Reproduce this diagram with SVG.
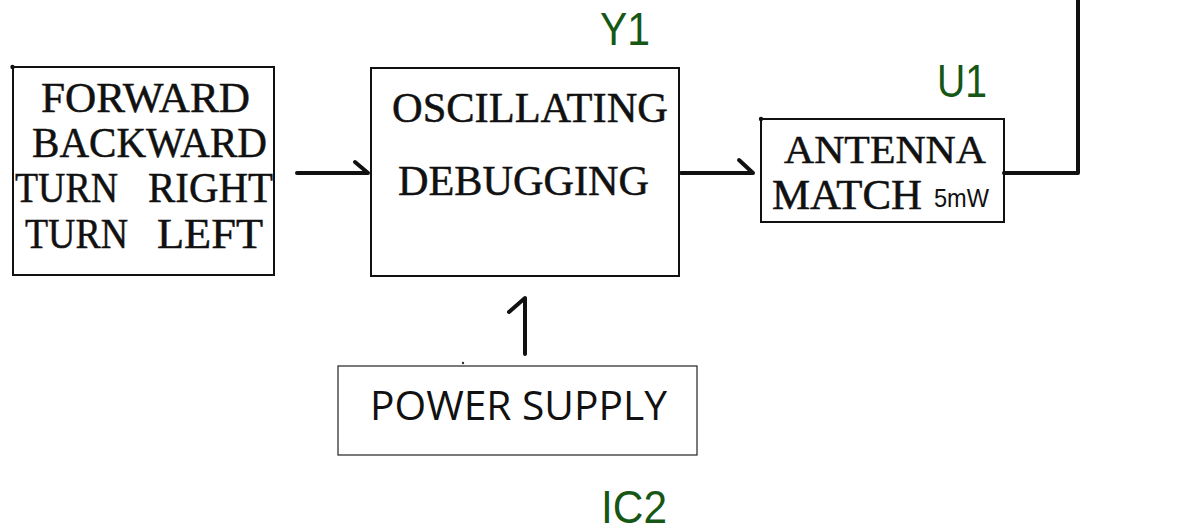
<svg xmlns="http://www.w3.org/2000/svg" width="1183" height="531" viewBox="0 0 1183 531">
<style>
.box{fill:#fff;stroke:#111;stroke-width:2}
.thin{fill:#fff;stroke:#222;stroke-width:1.2}
.serif{font-family:"Liberation Serif","Times New Roman",serif;fill:#111;stroke:#111;stroke-width:0.5}
.c{text-anchor:middle}
.sans{font-family:"Liberation Sans",Arial,sans-serif;fill:#111}
.lbl{font-family:"Liberation Sans",Arial,sans-serif;fill:#165716;font-size:46px}
.wire{fill:none;stroke:#111;stroke-width:4;stroke-linecap:round;stroke-linejoin:round}
</style>
<rect width="1183" height="531" fill="#fff"/>
<g id="controls">
<rect class="box" x="13" y="67" width="261" height="208"/>
<circle cx="12.5" cy="67" r="2.2" fill="#111"/>
<text class="serif c" font-size="43" x="145.5" y="112" textLength="209" lengthAdjust="spacingAndGlyphs">FORWARD</text>
<text class="serif c" font-size="43" x="149.5" y="157" textLength="235" lengthAdjust="spacingAndGlyphs">BACKWARD</text>
<text class="serif" font-size="43" x="15" y="202" textLength="103" lengthAdjust="spacingAndGlyphs">TURN</text>
<text class="serif" font-size="43" x="148" y="202" textLength="125" lengthAdjust="spacingAndGlyphs">RIGHT</text>
<text class="serif" font-size="43" x="25" y="248" textLength="103" lengthAdjust="spacingAndGlyphs">TURN</text>
<text class="serif" font-size="43" x="157" y="248" textLength="106" lengthAdjust="spacingAndGlyphs">LEFT</text>
</g>
<g id="oscillator">
<rect class="box" x="371" y="68" width="308" height="208"/>
<text class="serif c" font-size="43" x="530" y="122" textLength="276" lengthAdjust="spacingAndGlyphs">OSCILLATING</text>
<text class="serif c" font-size="43" x="523.5" y="195" textLength="251" lengthAdjust="spacingAndGlyphs">DEBUGGING</text>
<text class="lbl" x="625" y="45" text-anchor="middle" textLength="50" lengthAdjust="spacingAndGlyphs">Y1</text>
</g>
<g id="antenna">
<rect class="box" x="761" y="119" width="243" height="103"/>
<circle cx="761" cy="119" r="2.2" fill="#111"/>
<text class="serif c" font-size="41" x="885" y="163" textLength="202" lengthAdjust="spacingAndGlyphs">ANTENNA</text>
<text class="serif c" font-size="42" x="847" y="209" textLength="150" lengthAdjust="spacingAndGlyphs">MATCH</text>
<text class="sans" font-size="25" x="934" y="207" textLength="55" lengthAdjust="spacingAndGlyphs">5mW</text>
<text class="lbl" x="962" y="97" text-anchor="middle" textLength="50" lengthAdjust="spacingAndGlyphs">U1</text>
</g>
<g id="power">
<rect class="thin" x="338" y="366" width="359" height="89"/>
<circle cx="463" cy="363" r="1.2" fill="#333"/>
<text font-family="'Open Sans','Noto Sans',sans-serif" font-size="40" fill="#111" x="370" y="420" textLength="297" lengthAdjust="spacingAndGlyphs">POWER SUPPLY</text>
<text class="lbl" x="634" y="523" text-anchor="middle" textLength="66" lengthAdjust="spacingAndGlyphs">IC2</text>
</g>
<g id="connectors">
<path class="wire" d="M297 173 H368 L355 162"/>
<path class="wire" d="M681 173 H753 L739 160"/>
<path class="wire" d="M1004 173 H1078 V-5"/>
<path class="wire" stroke-width="3" d="M525 354 V298 L509 312"/>
</g>
</svg>
